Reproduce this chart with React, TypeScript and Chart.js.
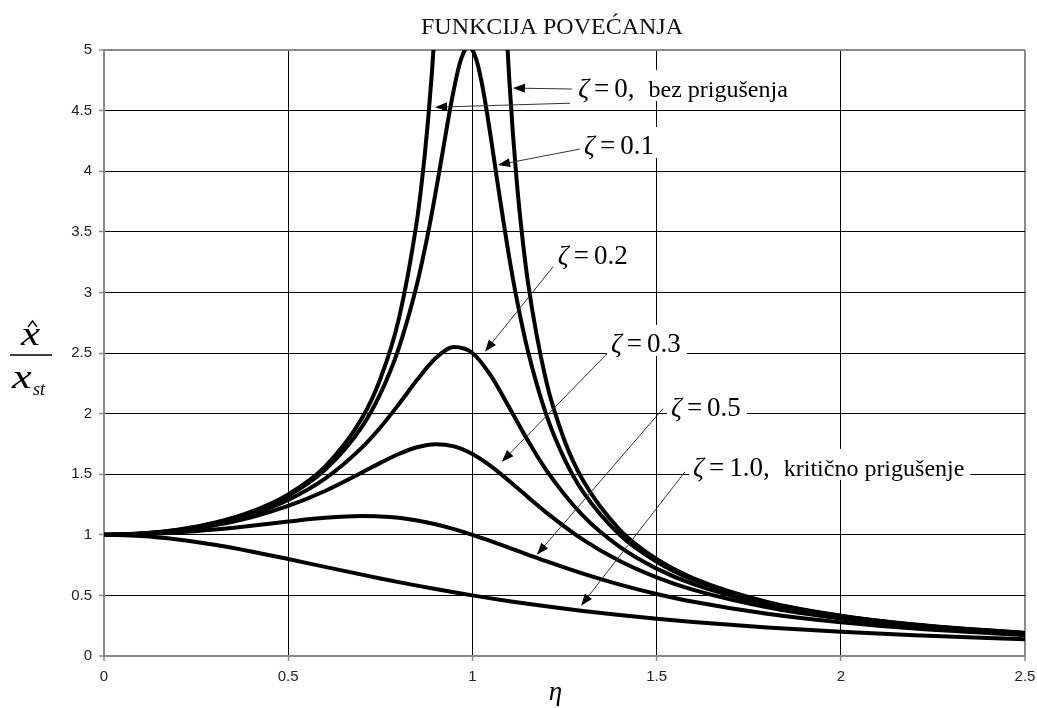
import React, { useEffect, useRef } from "react";
import { Chart, registerables } from "chart.js";

Chart.register(...registerables);

// ---------- data ----------
const TITLE = "FUNKCIJA POVEĆANJA";
const X_MIN = 0;
const X_MAX = 2.5;
const X_STEP = 0.5;
const Y_MIN = 0;
const Y_MAX = 5;
const Y_STEP = 0.5;

// shared η samples
const ETA = [0, 0.1, 0.2, 0.3, 0.4, 0.5, 0.6, 0.7, 0.75, 0.8, 0.85, 0.9, 0.95, 1.0, 1.05, 1.1, 1.15, 1.2, 1.3, 1.4, 1.5, 1.6, 1.8, 2.0, 2.2, 2.5];

// ζ = 0 (two branches, gap at resonance)
const ETA_Z0 = [0, 0.1, 0.2, 0.3, 0.4, 0.5, 0.6, 0.7, 0.75, 0.8, 0.85, 0.86, 0.87, 0.88, 0.89, 0.9, 1.0, 1.09, 1.1, 1.11, 1.12, 1.13, 1.15, 1.2, 1.25, 1.3, 1.4, 1.5, 1.6, 1.8, 2.0, 2.2, 2.5];
const ZETA_0 = [1, 1.0101, 1.0417, 1.0989, 1.1905, 1.3333, 1.5625, 1.9608, 2.2857, 2.7778, 3.6036, 3.8402, 4.1135, 4.4326, 4.81, 5.2632, null, 5.3163, 4.7619, 4.3085, 3.9308, 3.6114, 3.1008, 2.2727, 1.7778, 1.4493, 1.0417, 0.8, 0.641, 0.4464, 0.3333, 0.2604, 0.1905];

// ζ = 0.1
const ETA_Z01 = [0, 0.1, 0.2, 0.3, 0.4, 0.5, 0.6, 0.7, 0.75, 0.8, 0.85, 0.88, 0.9, 0.92, 0.94, 0.96, 0.97, 0.98, 0.99, 1.0, 1.01, 1.02, 1.03, 1.04, 1.05, 1.07, 1.1, 1.12, 1.15, 1.2, 1.25, 1.3, 1.4, 1.5, 1.6, 1.8, 2.0, 2.2, 2.5];
const ZETA_01 = [1, 1.0099, 1.0408, 1.0965, 1.1851, 1.3216, 1.5357, 1.8908, 2.1622, 2.5384, 3.0729, 3.4949, 3.8208, 4.1721, 4.5224, 4.8218, 4.9309, 5.001, 5.0252, 5.0, 4.9262, 4.8086, 4.6552, 4.4755, 4.2794, 3.8693, 3.288, 2.9502, 2.5245, 1.9952, 1.6246, 1.3562, 1.0, 0.7779, 0.6279, 0.4408, 0.3304, 0.2587, 0.1896];

// ζ = 0.2, 0.3, 0.5, 1.0 (on ETA)
const ZETA_02 = [1, 1.0093, 1.0381, 1.0895, 1.1695, 1.2883, 1.463, 1.7188, 1.8851, 2.0761, 2.2786, 2.4566, 2.549, 2.5, 2.3131, 2.0511, 1.78, 1.5357, 1.1574, 0.8998, 0.7212, 0.5931, 0.425, 0.3221, 0.2538, 0.1871];
const ZETA_03 = [1, 1.0083, 1.0336, 1.078, 1.1447, 1.238, 1.3618, 1.5136, 1.5933, 1.6667, 1.7223, 1.7469, 1.7293, 1.6667, 1.5667, 1.4438, 1.3129, 1.1851, 0.9603, 0.7839, 0.6492, 0.5459, 0.4021, 0.3095, 0.2463, 0.1831];
const ZETA_05 = [1, 1.005, 1.0198, 1.0436, 1.0748, 1.1094, 1.1399, 1.1546, 1.1517, 1.1399, 1.1184, 1.0872, 1.0471, 1.0, 0.9479, 0.893, 0.8373, 0.7824, 0.6795, 0.5891, 0.5121, 0.4475, 0.348, 0.2774, 0.226, 0.172];
const ZETA_10 = [1, 0.9901, 0.9615, 0.9174, 0.8621, 0.8, 0.7353, 0.6711, 0.64, 0.6098, 0.5806, 0.5525, 0.5256, 0.5, 0.4756, 0.4525, 0.4306, 0.4098, 0.3717, 0.3378, 0.3077, 0.2809, 0.2358, 0.2, 0.1712, 0.1379];

// annotation labels (value text, optional note) and anchor in data units
const LABEL_VALUES = ["0,", "0.1", "0.2", "0.3", "0.5", "1.0,"];
const LABEL_NOTES = ["bez prigušenja", "", "", "", "", "kritično prigušenje"];
const LABEL_X = [1.287, 1.303, 1.232, 1.376, 1.539, 1.599];
const LABEL_Y = [4.686, 4.216, 3.309, 2.584, 2.056, 1.561];
// arrows: [tailX, tailY, headX, headY] in data units
const ARROWS = [
  [1.27, 4.678, 1.11, 4.686],
  [1.265, 4.561, 0.8985, 4.528],
  [1.292, 4.183, 1.0695, 4.052],
  [1.219, 3.212, 1.034, 2.511],
  [1.365, 2.493, 1.08, 1.603],
  [1.517, 2.04, 1.175, 0.836],
  [1.577, 1.52, 1.295, 0.415],
];

// ---------- helpers ----------
const pts = (xs: number[], ys: (number | null)[]) => xs.map((x, i) => ({ x, y: ys[i] }));

const SERIF = '"Liberation Serif", "DejaVu Serif", serif';
const SANS = '"Liberation Sans", Arial, sans-serif';

const drawArrow = (ctx: CanvasRenderingContext2D, x1: number, y1: number, x2: number, y2: number) => {
  const ang = Math.atan2(y2 - y1, x2 - x1);
  const L = 12;
  const W = 4.5;
  ctx.strokeStyle = "#333";
  ctx.lineWidth = 1;
  ctx.beginPath();
  ctx.moveTo(x1, y1);
  ctx.lineTo(x2 - Math.cos(ang) * (L - 2), y2 - Math.sin(ang) * (L - 2));
  ctx.stroke();
  ctx.fillStyle = "#000";
  ctx.beginPath();
  ctx.moveTo(x2, y2);
  ctx.lineTo(x2 - Math.cos(ang) * L - Math.sin(ang) * W, y2 - Math.sin(ang) * L + Math.cos(ang) * W);
  ctx.lineTo(x2 - Math.cos(ang) * L + Math.sin(ang) * W, y2 - Math.sin(ang) * L - Math.cos(ang) * W);
  ctx.closePath();
  ctx.fill();
};

const wideText = (ctx: CanvasRenderingContext2D, t: string, x: number, y: number, sx: number) => {
  ctx.save();
  ctx.translate(x, y);
  ctx.scale(sx, 1);
  ctx.fillText(t, 0, 0);
  ctx.restore();
};

const annotationPlugin = {
  id: "annotations",
  afterDatasetsDraw(chart: any) {
    const { ctx, scales } = chart;
    const xs = scales.x;
    const ys = scales.y;
    ctx.save();
    const layouts = LABEL_VALUES.map((val, i) => {
      const px = xs.getPixelForValue(LABEL_X[i]);
      const py = ys.getPixelForValue(LABEL_Y[i]);
      ctx.font = `italic 27px ${SERIF}`;
      const wz = ctx.measureText("ζ").width;
      ctx.font = `27px ${SERIF}`;
      const we = ctx.measureText("=").width;
      const wv = ctx.measureText(val).width;
      let wn = 0;
      if (LABEL_NOTES[i]) {
        ctx.font = `24px ${SERIF}`;
        wn = ctx.measureText(LABEL_NOTES[i]).width;
      }
      const xEq = px + wz + 5;
      const xVal = xEq + we + 5;
      const xNote = xVal + wv + 14;
      const right = LABEL_NOTES[i] ? xNote + wn : xVal + wv;
      return { px, py, xEq, xVal, xNote, right, val, note: LABEL_NOTES[i] };
    });
    // white boxes
    ctx.fillStyle = "#fff";
    layouts.forEach((l) => ctx.fillRect(l.px - 4, l.py - 18, l.right - l.px + 10, 31));
    // texts
    ctx.fillStyle = "#000";
    ctx.textBaseline = "alphabetic";
    ctx.textAlign = "left";
    layouts.forEach((l) => {
      const base = l.py + 9;
      ctx.font = `italic 27px ${SERIF}`;
      ctx.fillText("ζ", l.px, base);
      ctx.font = `27px ${SERIF}`;
      ctx.fillText("=", l.xEq, base);
      ctx.fillText(l.val, l.xVal, base);
      if (l.note) {
        ctx.font = `24px ${SERIF}`;
        ctx.fillText(l.note, l.xNote, base);
      }
    });
    // arrows
    ARROWS.forEach((a) => {
      drawArrow(ctx, xs.getPixelForValue(a[0]), ys.getPixelForValue(a[1]), xs.getPixelForValue(a[2]), ys.getPixelForValue(a[3]));
    });
    ctx.restore();
  },
  afterDraw(chart: any) {
    const { ctx, chartArea } = chart;
    ctx.save();
    ctx.fillStyle = "#111";
    ctx.textAlign = "center";
    ctx.textBaseline = "alphabetic";
    ctx.font = `24px ${SERIF}`;
    ctx.fillText(TITLE, 552, 34);

    // x-axis label η
    ctx.fillStyle = "#000";
    ctx.font = `italic 27px ${SERIF}`;
    ctx.fillText("η", (chartArea.left + chartArea.right) / 2 - 9, 700);

    // y-axis label  x̂ / x_st
    const cy = Math.round((chartArea.top + chartArea.bottom) / 2) + 2;
    ctx.textAlign = "left";
    ctx.font = `italic 33px ${SERIF}`;
    wideText(ctx, "x", 21, cy - 10, 1.3);
    ctx.strokeStyle = "#000";
    ctx.lineWidth = 1.4;
    ctx.beginPath();
    ctx.moveTo(28, cy - 28);
    ctx.lineTo(32.5, cy - 34);
    ctx.lineTo(37, cy - 28);
    ctx.stroke();
    ctx.lineWidth = 1.6;
    ctx.beginPath();
    ctx.moveTo(10, cy);
    ctx.lineTo(52, cy);
    ctx.stroke();
    ctx.font = `italic 33px ${SERIF}`;
    wideText(ctx, "x", 12, cy + 33, 1.35);
    ctx.font = `italic 18px ${SERIF}`;
    ctx.fillText("st", 33, cy + 40);
    ctx.restore();
  },
};

const line = (data: any[]) => ({
  data,
  borderColor: "#000",
  borderWidth: 4,
  pointRadius: 0,
  fill: false,
  cubicInterpolationMode: "monotone" as const,
  spanGaps: false,
});

const tickLabel = (v: any) => String(Math.round(Number(v) * 100) / 100);

export default function App() {
  const ref = useRef<HTMLCanvasElement>(null);
  useEffect(() => {
    if (!ref.current) return;
    const edgeX = (c: any) => c.tick && (c.tick.value === X_MIN || c.tick.value === X_MAX);
    const edgeY = (c: any) => c.tick && (c.tick.value === Y_MIN || c.tick.value === Y_MAX);
    const chart = new Chart(ref.current, {
      type: "line",
      data: {
        datasets: [
          line(pts(ETA_Z0, ZETA_0)),
          line(pts(ETA_Z01, ZETA_01)),
          line(pts(ETA, ZETA_02)),
          line(pts(ETA, ZETA_03)),
          line(pts(ETA, ZETA_05)),
          line(pts(ETA, ZETA_10)),
        ],
      },
      options: {
        animation: false,
        responsive: false,
        layout: { padding: { top: 50, right: 12, left: 0, bottom: 0 } },
        plugins: { legend: { display: false }, tooltip: { enabled: false }, title: { display: false } },
        scales: {
          x: {
            type: "linear",
            min: X_MIN,
            max: X_MAX,
            afterFit: (s: any) => {
              s.height = 52;
              s.paddingLeft = 0;
              s.paddingRight = 0;
            },
            ticks: {
              stepSize: X_STEP,
              padding: 7,
              color: "#222",
              font: { family: SANS, size: 15 },
              maxRotation: 0,
              callback: tickLabel,
            },
            grid: {
              color: (c: any) => (edgeX(c) ? "#8a8a8a" : "#000"),
              lineWidth: (c: any) => (edgeX(c) ? 2 : 1),
              tickLength: 5,
              tickColor: "#8a8a8a",
              tickWidth: 1.5,
            },
            border: { color: "#8a8a8a", width: 2 },
          },
          y: {
            type: "linear",
            min: Y_MIN,
            max: Y_MAX,
            afterFit: (s: any) => {
              s.width = 104;
              s.paddingTop = 0;
              s.paddingBottom = 0;
            },
            ticks: {
              stepSize: Y_STEP,
              padding: 7,
              color: "#222",
              font: { family: SANS, size: 15 },
              callback: tickLabel,
            },
            grid: {
              color: (c: any) => (edgeY(c) ? "#8a8a8a" : "#000"),
              lineWidth: (c: any) => (edgeY(c) ? 2 : 1),
              tickLength: 5,
              tickColor: "#8a8a8a",
              tickWidth: 1.5,
            },
            border: { color: "#8a8a8a", width: 2 },
          },
        },
      },
      plugins: [annotationPlugin],
    });
    return () => chart.destroy();
  }, []);
  return (
    <div style={{ position: "absolute", left: 0, top: 0, width: 1037, height: 708, background: "#fff" }}>
      <canvas ref={ref} width={1037} height={708} style={{ width: 1037, height: 708 }} />
    </div>
  );
}
